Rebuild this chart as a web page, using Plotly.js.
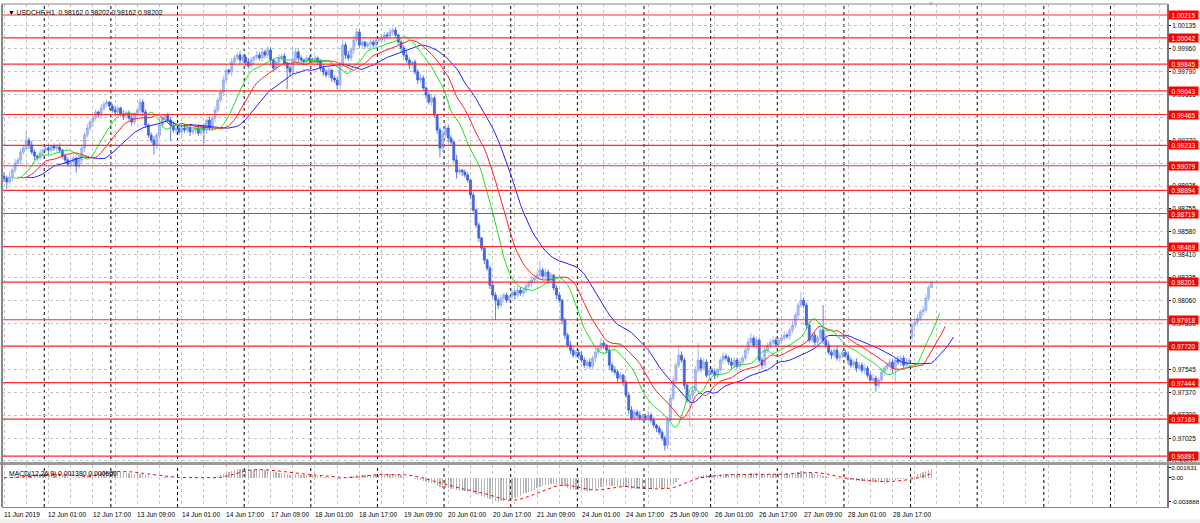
<!DOCTYPE html>
<html><head><meta charset="utf-8">
<script src="https://cdn.plot.ly/plotly-3.0.1.min.js"></script>
<style>html,body{margin:0;padding:0;background:#fff}#chart{width:1200px;height:523px}</style>
</head><body><div id="chart"></div>
<script>
// ---------- data ----------
const symbol = 'USDCHF,H1';
const lastOHLC = ['0.98162', '0.98202', '0.98162', '0.98202'];
const macdText = 'MACD(12,26,9) 0.001380 0.000660';
const year = '2019';
const dayNames = ['11 Jun','12 Jun','13 Jun','14 Jun','17 Jun','18 Jun','19 Jun','20 Jun','21 Jun','24 Jun','25 Jun','26 Jun','27 Jun','28 Jun','1 Jul'];
const dayFirstHour = [9,0,0,0,0,0,0,0,0,0,0,0,0,0,0];
const dayBars = [15,24,24,24,24,24,24,24,24,24,24,24,24,24,8];

// closes in points (1e-5)
const close = [
 98986,98956,98993,99046,99099,99122,99182,99212,99272,99235,99182,99152,99137,99174,99197,
 99212,99197,99227,99212,99220,99197,99152,99122,99091,99107,99137,99076,99122,99212,99310,99363,99408,99438,99484,99461,99514,99544,99559,99529,
 99499,99484,99514,99468,99453,99476,99438,99408,99461,99499,99559,99484,99386,99310,99272,99235,99310,99386,99438,99461,99423,99386,99348,99363,
 99333,99363,99348,99370,99333,99348,99363,99325,99378,99348,99423,99363,99438,99499,99574,99634,99725,99800,99785,99861,99891,99913,99876,99898,
 99861,99830,99876,99898,99913,99891,99936,99913,99951,99876,99815,99861,99891,99906,99853,99815,99785,99876,99936,99891,99876,99861,99891,99876,
 99876,99891,99861,99815,99785,99763,99800,99740,99725,99687,99838,99989,99913,99891,99951,100026,100087,99989,100011,99981,99996,100011,99989,100026,
 100026,100041,100064,100057,100087,100102,100064,100011,99966,99913,99876,99838,99861,99785,99725,99740,99665,99612,99559,99589,99461,99348,99212,99310,
 99363,99288,99257,99122,99031,99046,99031,99009,98971,98858,98745,98632,98534,98458,98368,98307,98179,98104,98066,98028,98081,98104,98066,98096,
 98126,98104,98141,98119,98141,98172,98194,98217,98232,98254,98292,98247,98277,98217,98254,98157,98104,98066,97915,97802,97727,97689,97651,97674,
 97651,97614,97576,97599,97568,97629,97674,97704,97742,97727,97689,97576,97538,97523,97478,97500,97448,97350,97237,97176,97222,97199,97176,97191,
 97176,97199,97161,97124,97101,97071,97026,96973,97161,97327,97463,97576,97651,97614,97425,97312,97350,97387,97538,97614,97553,97599,97500,97538,
 97523,97500,97538,97614,97644,97629,97599,97576,97614,97568,97599,97629,97689,97749,97780,97727,97764,97614,97576,97689,97727,97749,97764,97734,
 97764,97780,97802,97795,97840,97878,97953,98028,98066,98028,97878,97764,97802,97749,97780,97840,97764,97727,97674,97651,97689,97629,97651,97674,
 97651,97614,97576,97599,97553,97576,97538,97553,97500,97463,97478,97425,97463,97523,97553,97576,97599,97553,97614,97599,97629,97576,97599,97614,
 97878,97900,97930,97976,97991,98081,98162,98202
];
// upper / lower shadows in pips
const wickUp = [
 3,2,4,2,3,2,3,2,7,2,3,2,1,3,2,
 2,3,1,2,2,3,1,2,2,3,2,1,3,2,2,3,2,3,2,1,3,2,2,1,
 2,3,2,1,3,2,2,3,2,1,3,2,2,1,2,3,2,2,3,1,2,2,3,2,
 2,1,3,2,2,1,2,3,2,2,1,3,2,3,2,2,3,2,1,3,2,2,3,2,
 2,3,2,1,3,2,3,2,3,2,1,2,3,2,2,1,2,10,3,2,2,1,2,2,
 2,2,1,2,3,2,2,1,2,2,3,4,2,3,2,3,3,2,2,1,2,3,2,2,
 2,3,2,2,3,2,2,1,2,2,3,2,1,2,2,3,2,1,2,3,2,1,2,4,
 3,2,2,1,4,2,1,2,2,1,2,1,2,1,2,1,2,3,2,2,3,2,2,1,
 2,2,3,2,1,2,2,3,2,3,7,2,3,2,2,1,2,2,1,2,2,3,2,2,
 2,3,2,2,3,2,3,2,4,2,1,2,2,3,2,2,1,2,2,3,2,2,3,2,
 2,3,2,2,1,2,2,2,3,2,3,2,7,3,2,2,2,3,3,13,2,3,2,2,
 2,3,2,2,3,2,2,3,2,2,3,2,2,3,4,2,3,2,2,3,2,2,3,2,
 2,2,3,2,2,3,2,2,6,2,2,3,2,2,2,2,19,2,3,2,2,3,2,2,
 2,3,2,2,3,2,2,3,2,2,3,2,2,3,2,2,3,2,2,3,2,2,3,2,
 3,2,3,2,3,3,2,0
];
const wickDown = [
 3,5,2,3,2,2,3,2,2,3,2,3,2,2,3,
 2,3,2,2,3,2,2,3,2,2,3,5,2,2,3,2,2,3,2,2,3,2,2,3,
 2,3,2,2,3,2,2,3,2,2,3,2,2,2,2,7,3,2,2,2,2,12,2,3,
 2,3,2,2,3,2,3,2,2,10,3,2,2,3,2,2,3,2,2,3,2,2,3,2,
 3,2,2,3,2,2,3,2,2,3,2,2,3,2,2,16,3,2,2,3,2,2,3,2,
 2,3,2,2,3,2,2,3,2,3,4,2,3,2,2,3,2,2,3,2,2,3,2,2,
 2,2,3,2,2,3,2,2,3,2,2,3,2,2,3,2,2,3,2,3,2,3,7,3,
 2,3,2,2,5,2,3,2,2,3,2,2,3,2,3,2,3,2,15,3,2,3,2,2,
 2,3,2,2,3,2,2,3,2,2,3,2,2,3,2,2,3,2,3,3,2,3,2,2,
 3,2,2,3,2,2,3,2,2,3,2,3,2,2,3,2,3,2,3,2,2,3,2,2,
 2,3,2,2,3,2,2,4,3,2,2,3,2,2,3,2,20,3,2,2,3,2,2,3,
 2,3,2,2,3,2,2,3,2,2,3,2,2,3,2,2,3,2,3,2,2,3,2,2,
 2,3,2,2,3,2,2,3,2,2,3,2,2,3,2,2,3,2,2,3,2,2,3,2,
 2,3,2,2,3,2,2,3,2,2,3,5,2,2,3,2,2,3,10,2,3,2,2,3,
 4,2,3,2,3,2,2,0
];
const firstOpen = 99000;
const gapBars = [327];
const gapOpens = [97790];

const levels = [1.00215,1.00042,0.99845,0.99643,0.99465,0.99233,0.99079,0.98894,0.98719,0.98469,0.98201,0.97918,0.97720,0.97444,0.97169,0.96891];
const priceTicks = [1.00135,0.99960,0.99790,0.99615,0.99445,0.99270,0.99095,0.98925,0.98755,0.98580,0.98410,0.98235,0.98060,0.97890,0.97715,0.97545,0.97370,0.97200,0.97025,0.96855];
const hiddenTicks = [0.99095, 0.97715]; // fully covered by level labels in the original
const macdTicks = [0.001631, 0, -0.003888];
const macdTickText = ['0.001631', '0.00', '-0.003888'];

// ---------- derived series ----------
const PT = 1e5;
const n = close.length;
const idx = close.map((_, i) => i);
const open = close.map((c, i) => i === 0 ? firstOpen : close[i - 1]);
gapBars.forEach((b, k) => { open[b] = gapOpens[k]; });
const O = open.map(v => v / PT);
const C = close.map(v => v / PT);
const H = close.map((c, i) => (Math.max(open[i], c) + wickUp[i] * 10) / PT);
const L = close.map((c, i) => (Math.min(open[i], c) - wickDown[i] * 10) / PT);
const med = H.map((h, i) => (h + L[i]) / 2);

function smma(src, N) { const out = []; let v = src[0]; src.forEach((s, i) => { v = i === 0 ? s : (v * (N - 1) + s) / N; out.push(v); }); return out; }
function ema(src, N) { const k = 2 / (N + 1); const out = []; let v = src[0]; src.forEach((s, i) => { v = i === 0 ? s : v + k * (s - v); out.push(v); }); return out; }
function sma(src, N) { return src.map((_, i) => { const a = src.slice(Math.max(0, i - N + 1), i + 1); return a.reduce((p, q) => p + q, 0) / a.length; }); }

const jaw = smma(med, 13), teeth = smma(med, 8), lips = smma(med, 5);
const e12 = ema(C, 12), e26 = ema(C, 26);
const macd = e12.map((v, i) => v - e26[i]);
const signal = sma(macd, 9);

// time labels
const times = [];
dayNames.forEach((d, k) => { for (let h = 0; h < dayBars[k]; h++) times.push({ d, h: dayFirstHour[k] + h }); });
const dayStarts = [];
let acc = 0; dayBars.forEach(b => { dayStarts.push(acc); acc += b; });
const sepX = dayStarts.slice(1).map(s => s - 0.5);
for (let s = dayStarts[dayStarts.length - 1] + 24; s < 420; s += 24) sepX.push(s - 0.5);

const labelIdx = idx.filter(i => i % 16 === 0);
const labelText = labelIdx.map(i => i === 0 ? `${times[0].d} ${year}` : `${times[i].d} ${String(times[i].h).padStart(2, '0')}:00`);

// ---------- traces ----------
const FONT = 'Liberation Sans, Arial, sans-serif';
const traces = [
  { type: 'candlestick', x: idx, open: O, high: H, low: L, close: C, xaxis: 'x', yaxis: 'y', hoverinfo: 'skip',
    increasing: { line: { color: '#8ea6ee', width: 0.8 }, fillcolor: '#aebff3' },
    decreasing: { line: { color: '#3a60dc', width: 0.8 }, fillcolor: '#4169e1' }, whiskerwidth: 0 },
  { type: 'scatter', mode: 'lines', x: idx.map(i => i + 8), y: jaw, line: { color: '#2020ff', width: 1 }, hoverinfo: 'skip' },
  { type: 'scatter', mode: 'lines', x: idx.map(i => i + 5), y: teeth, line: { color: '#ff2020', width: 1 }, hoverinfo: 'skip' },
  { type: 'scatter', mode: 'lines', x: idx.map(i => i + 3), y: lips, line: { color: '#20e020', width: 1 }, hoverinfo: 'skip' },
  { type: 'bar', x: idx, y: macd, xaxis: 'x', yaxis: 'y2', width: 0.45, marker: { color: '#b4b4b4', line: { width: 0 } }, hoverinfo: 'skip' },
  { type: 'scatter', mode: 'lines', x: idx, y: signal, xaxis: 'x', yaxis: 'y2', line: { color: '#ff0000', width: 1, dash: 'dot' }, hoverinfo: 'skip' }
];

// ---------- layout ----------
const W = 1200, Hh = 523, ml = 2, mr = 33, mt = 4, mb = 16;
const plotW = W - ml - mr, plotH = Hh - mt - mb;
const pY = px => (Hh - mb - px) / plotH; // page y px -> paper
const priceDom = [pY(462), 1];
const macdDom = [0, pY(465)];
const shapes = [];
sepX.forEach(x => shapes.push({ type: 'line', xref: 'x', yref: 'paper', x0: x, x1: x, y0: 0, y1: 1, line: { color: '#000', width: 1, dash: 'dot' }, layer: 'below' }));
levels.forEach(v => shapes.push({ type: 'line', xref: 'paper', yref: 'y', x0: 0, x1: 1, y0: v, y1: v, line: { color: '#ff2a2a', width: 1.2 }, layer: 'above' }));
shapes.push({ type: 'rect', xref: 'paper', yref: 'paper', x0: -ml / plotW, x1: 1 + mr / plotW, y0: macdDom[1], y1: priceDom[0], fillcolor: '#9a9a9a', line: { width: 0 }, layer: 'above' });
shapes.push({ type: 'line', xref: 'paper', yref: 'paper', x0: 0, x1: 0, y0: 0, y1: 1, line: { color: '#888', width: 2 } });
shapes.push({ type: 'line', xref: 'paper', yref: 'paper', x0: 0, x1: 1, y0: 1, y1: 1, line: { color: '#888', width: 1 } });
shapes.push({ type: 'rect', xref: 'paper', yref: 'paper', x0: -ml / plotW, x1: 1 + mr / plotW, y0: -mb / plotH, y1: -(mb - 4) / plotH, fillcolor: '#f0f0f0', line: { width: 0 } });

const ann = [];
ann.push({ xref: 'paper', yref: 'paper', x: 0, y: 1, xanchor: 'left', yanchor: 'top', xshift: 4, yshift: -3, showarrow: false,
  text: `▼ ${symbol}  ${lastOHLC.join(' ')}`, font: { family: FONT, size: 6.8, color: '#000' } });
ann.push({ xref: 'paper', yref: 'paper', x: 0, y: macdDom[1], xanchor: 'left', yanchor: 'top', xshift: 5, yshift: -3, showarrow: false,
  text: macdText, font: { family: FONT, size: 6.8, color: '#000' } });
ann.push({ xref: 'x', yref: 'paper', x: n - 1, y: 1, xanchor: 'center', yanchor: 'bottom', yshift: -5, showarrow: false,
  text: '▼', font: { family: FONT, size: 6, color: '#aaa' } });
labelIdx.forEach((i, k) => ann.push({ xref: 'x', yref: 'paper', x: i, y: 0, xanchor: 'left', yanchor: 'top', xshift: -2, yshift: -2, showarrow: false,
  text: labelText[k], font: { family: FONT, size: 6.6, color: '#000' } }));
levels.forEach(v => ann.push({ xref: 'paper', yref: 'y', x: 1, y: v, xanchor: 'left', yanchor: 'middle', xshift: 1, showarrow: false,
  text: v.toFixed(5), bgcolor: '#ff0000', borderpad: 0, width: 29, height: 8, align: 'center', valign: 'middle',
  font: { family: FONT, size: 6.5, color: '#fff' } }));

const x0 = -ml / 2.7766, x1 = x0 + plotW / 2.7766;
const layout = {
  width: W, height: Hh, margin: { l: ml, r: mr, t: mt, b: mb, pad: 0 },
  paper_bgcolor: '#fff', plot_bgcolor: '#fff', showlegend: false, bargap: 0, boxgap: 0.3, boxgroupgap: 0,
  font: { family: FONT, size: 6.6, color: '#000' },
  xaxis: { range: [x0, x1], anchor: 'y2', domain: [0, 1], tickmode: 'linear', tick0: 0, dtick: 8, showticklabels: false, ticks: '',
    showgrid: true, gridcolor: '#c4c4c4', griddash: 'dot', gridwidth: 1, zeroline: false, rangeslider: { visible: false },
    showline: true, linecolor: '#888', linewidth: 1 },
  yaxis: { domain: priceDom, range: [0.96846, 1.00298], side: 'right', anchor: 'x', tickmode: 'array', tickvals: priceTicks,
    ticktext: priceTicks.map(v => hiddenTicks.includes(v) ? '' : v.toFixed(5)), ticks: 'outside', ticklen: 2, tickcolor: '#000', showgrid: true, gridcolor: '#c4c4c4',
    griddash: 'dot', zeroline: false, showline: true, linecolor: '#777', linewidth: 2, tickfont: { family: FONT, size: 6.5, color: '#000' } },
  yaxis2: { domain: macdDom, range: [-0.00469, 0.00203], side: 'right', anchor: 'x', tickmode: 'array', tickvals: macdTicks, ticktext: macdTickText,
    ticks: 'outside', ticklen: 2, tickcolor: '#000', showgrid: false, zeroline: false, showline: true, linecolor: '#777', linewidth: 2,
    ticklabelstandoff: -1, tickfont: { family: FONT, size: 6.2, color: '#000' } },
  shapes, annotations: ann
};
Plotly.newPlot('chart', traces, layout, { staticPlot: true, displayModeBar: false });
</script>
</body></html>
